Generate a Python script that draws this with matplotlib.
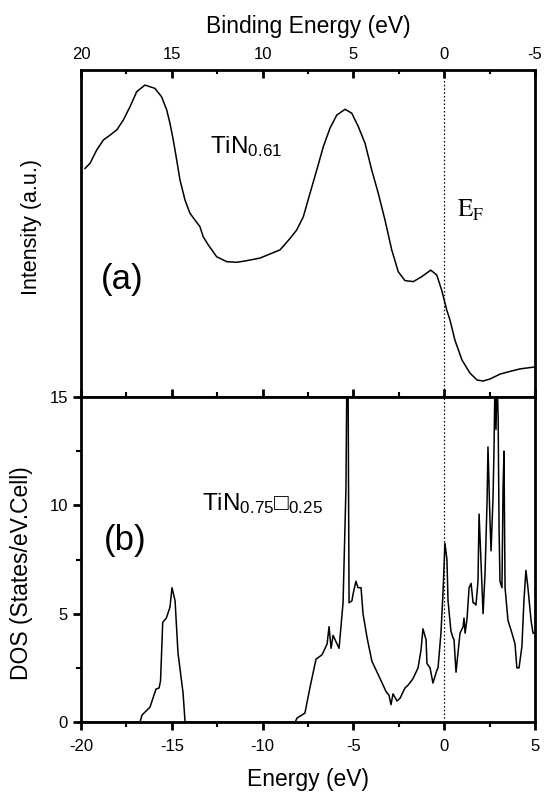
import matplotlib
matplotlib.use("Agg")
import matplotlib.pyplot as plt
from matplotlib.ticker import MultipleLocator

plt.rcParams['font.family'] = ['Liberation Sans', 'DejaVu Sans']
plt.rcParams['mathtext.fontset'] = 'custom'
plt.rcParams['mathtext.rm'] = 'Liberation Sans'
plt.rcParams['mathtext.default'] = 'regular'
plt.rcParams['axes.unicode_minus'] = False

# (a) photoemission spectrum, binding energy (eV) vs intensity (a.u.)
be_xps = [19.78, 19.50, 19.14, 18.77, 18.40, 18.03, 17.67, 17.30, 16.93, 16.48,
          15.93, 15.56, 15.28, 15.10, 14.92, 14.73, 14.55, 14.27, 14.00, 13.72,
          13.45, 13.27, 12.99, 12.53, 11.98, 11.43, 10.97, 10.14, 9.04, 8.49,
          8.12, 7.76, 7.39, 7.02, 6.66, 6.29, 5.92, 5.46, 5.09, 4.73,
          4.36, 3.99, 3.63, 3.26, 2.89, 2.53, 2.16, 1.70, 1.24, 0.74,
          0.41, 0.14, -0.14, -0.32, -0.59, -0.98, -1.42, -1.81, -2.14, -2.52,
          -3.07, -3.46, -4.17, -5.0]
int_xps = [0.699, 0.715, 0.755, 0.786, 0.801, 0.817, 0.847, 0.888, 0.934, 0.954,
           0.944, 0.918, 0.878, 0.837, 0.786, 0.725, 0.664, 0.602, 0.562, 0.541,
           0.521, 0.490, 0.465, 0.429, 0.414, 0.412, 0.416, 0.425, 0.450, 0.485,
           0.511, 0.551, 0.623, 0.694, 0.765, 0.822, 0.862, 0.880, 0.868, 0.827,
           0.776, 0.694, 0.623, 0.541, 0.450, 0.383, 0.356, 0.353, 0.368, 0.388,
           0.373, 0.327, 0.266, 0.235, 0.174, 0.113, 0.073, 0.052, 0.049, 0.055,
           0.070, 0.076, 0.086, 0.092]

# (b) calculated DOS, energy (eV) vs states/eV.cell
e_dos = [-20, -16.75, -16.64, -16.2, -15.87, -15.70, -15.62, -15.50, -15.3, -15.1,
         -14.99, -14.82, -14.66, -14.38, -14.27, -8.2, -8.11, -7.67, -7.39, -7.06,
         -6.73, -6.45, -6.34, -6.23, -6.12, -5.79, -5.57, -5.41, -5.35, -5.30,
         -5.24, -5.08, -5.02, -4.86, -4.75, -4.58, -4.47, -4.25, -3.98, -3.64,
         -3.42, -3.20, -3.04, -2.93, -2.82, -2.60, -2.43, -2.16, -1.99, -1.72,
         -1.44, -1.28, -1.17, -1.0, -0.95, -0.78, -0.62, -0.40, -0.34, -0.18,
         -0.07, 0.04, 0.15, 0.21, 0.37, 0.48, 0.54, 0.65, 0.76, 0.87,
         1.04, 1.09, 1.15, 1.26, 1.37, 1.48, 1.59, 1.64, 1.75, 1.86,
         1.92, 2.03, 2.14, 2.25, 2.36, 2.41, 2.52, 2.58, 2.69, 2.74,
         2.80, 2.85, 2.91, 2.97, 3.02, 3.07, 3.18, 3.24, 3.29, 3.35,
         3.51, 3.73, 3.90, 4.0, 4.12, 4.28, 4.39, 4.50, 4.61, 4.78,
         4.89, 5.0]
dos = [0, 0, 0.32, 0.69, 1.52, 1.57, 1.9, 4.6, 4.8, 5.3,
       6.2, 5.6, 3.2, 1.34, 0, 0, 0.18, 0.41, 1.6, 2.9,
       3.1, 3.6, 4.4, 3.4, 4.0, 3.4, 5.5, 10.8, 17, 17,
       5.5, 5.6, 5.9, 6.5, 6.2, 6.2, 5.0, 3.9, 2.8, 2.2,
       1.8, 1.4, 1.24, 0.8, 1.3, 0.97, 1.1, 1.57, 1.7, 2.0,
       2.5, 3.3, 4.3, 3.8, 2.7, 2.5, 1.8, 2.4, 2.5, 4.1,
       5.9, 8.25, 7.5, 5.6, 4.2, 3.9, 3.8, 2.3, 3.2, 4.1,
       4.4, 4.8, 4.1, 4.8, 6.2, 6.4, 5.5, 5.5, 5.4, 6.5,
       9.6, 7.3, 5.0, 6.9, 10.2, 12.7, 9.3, 7.9, 10.4, 12.5,
       16, 13.5, 16, 14, 9, 6.5, 6.2, 10.8, 12.5, 6.2,
       4.7, 4.1, 3.6, 2.5, 2.5, 3.5, 5.6, 7.0, 6.2, 4.7,
       4.1, 4.1]

fig = plt.figure(figsize=(5.48, 7.95), dpi=100)
ax1 = fig.add_axes([0.1478, 0.5006, 0.8285, 0.4113])
ax2 = fig.add_axes([0.1478, 0.0918, 0.8285, 0.4088])

for ax in (ax1, ax2):
    for s in ax.spines.values():
        s.set_linewidth(2.0)

# top panel: photoemission
ax1.plot(be_xps, int_xps, color='k', lw=1.1)
ax1.axvline(0, color='k', lw=0.9, ls=(0, (1.2, 1.8)))
ax1.set_xlim(20, -5)
ax1.set_ylim(0, 1)
ax1.xaxis.set_label_position('top')
ax1.xaxis.tick_top()
ax1.set_xticks([20, 15, 10, 5, 0, -5])
ax1.set_xticklabels(['20', '15', '10', '5', '0', '-5'])
ax1.xaxis.set_minor_locator(MultipleLocator(2.5))
ax1.tick_params(axis='x', which='major', direction='in', length=6, width=2, labelsize=12, pad=6)
ax1.tick_params(axis='x', which='minor', direction='in', length=3, width=1.5)
ax1.set_yticks([])
ax1.set_xlabel('Binding Energy (eV)', fontsize=16.5)
ax1.xaxis.set_label_coords(0.5, 1.113)
ax1.set_ylabel('Intensity (a.u.)', fontsize=15.5)
ax1.yaxis.set_label_coords(-0.086, 0.52)
ax1.text(12.9, 0.746, 'TiN$_{0.61}$', fontsize=17.5, ha='left', va='baseline')
ax1.text(17.75, 0.36, '(a)', fontsize=25, ha='center', va='center')
ax1.text(-0.7, 0.55, r'$\mathrm{E}_\mathrm{F}$', fontsize=18, ha='left', va='baseline',
         math_fontfamily='stix')

# bottom panel: DOS
ax2.plot(e_dos, dos, color='k', lw=1.1)
ax2.axvline(0, color='k', lw=0.9, ls=(0, (1.2, 1.8)))
ax2.set_xlim(-20, 5)
ax2.set_ylim(0, 15)
ax2.set_xticks([-20, -15, -10, -5, 0, 5])
ax2.set_yticks([0, 5, 10, 15])
ax2.xaxis.set_minor_locator(MultipleLocator(2.5))
ax2.yaxis.set_minor_locator(MultipleLocator(2.5))
ax2.tick_params(which='major', direction='out', length=6, width=2, labelsize=12, top=True)
ax2.tick_params(axis='x', which='major', pad=6)
ax2.tick_params(which='minor', direction='out', length=3.5, width=1.5, top=True)
ax2.set_xlabel('Energy (eV)', fontsize=16.5)
ax2.xaxis.set_label_coords(0.5, -0.142)
ax2.set_ylabel('DOS (States/eV.Cell)', fontsize=16.5)
ax2.yaxis.set_label_coords(-0.106, 0.457)
ax2.text(-17.55, 8.4, '(b)', fontsize=25, ha='center', va='center')
ax2.text(-13.34, 9.8, 'TiN$_{0.75}$\u25a1$_{0.25}$', fontsize=17.5, ha='left', va='baseline')

fig.savefig('out.png', dpi=100)
